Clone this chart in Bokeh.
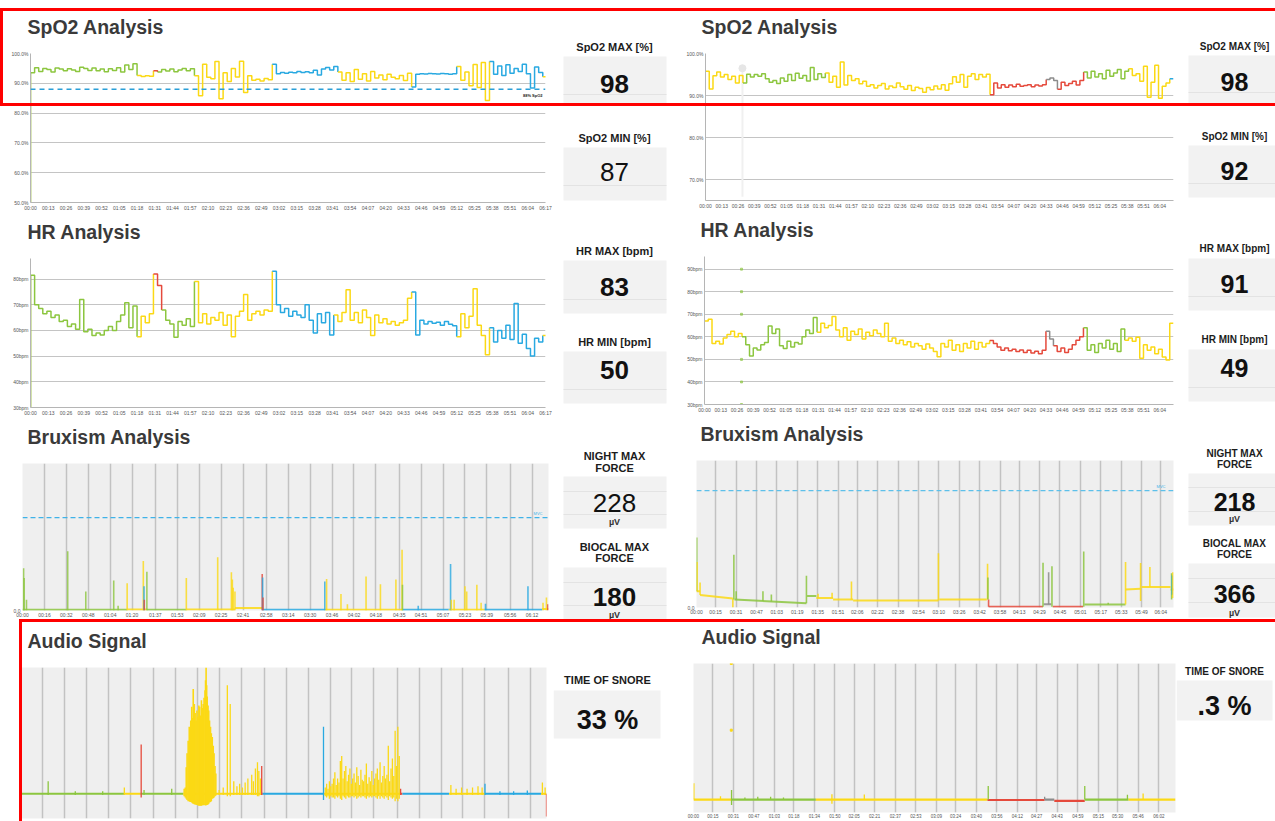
from bokeh.plotting import figure
from bokeh.layouts import row, column
from bokeh.models import Range1d, FixedTicker, PrintfTickFormatter, Span, Label, Div, Title
from bokeh.embed import file_html
from bokeh.resources import INLINE
from bokeh.core.properties import value

# ======================= DATA =======================
# time-axis tick labels
trend_left_labels = ["00:00", "00:13", "00:26", "00:39", "00:52", "01:05", "01:18", "01:31", "01:44", "01:57",
                     "02:10", "02:23", "02:36", "02:49", "03:02", "03:15", "03:28", "03:41", "03:54", "04:07",
                     "04:20", "04:33", "04:46", "04:59", "05:12", "05:25", "05:38", "05:51", "06:04", "06:17"]
trend_right_labels = trend_left_labels[:-1]
brux_left_labels = ["00:00", "00:16", "00:32", "00:48", "01:04", "01:20", "01:37", "01:53", "02:09", "02:25",
                    "02:41", "02:58", "03:14", "03:30", "03:46", "04:02", "04:18", "04:35", "04:51", "05:07",
                    "05:23", "05:39", "05:56", "06:12"]
brux_right_labels = ["00:00", "00:15", "00:31", "00:47", "01:03", "01:19", "01:35", "01:51", "02:06", "02:22",
                     "02:38", "02:54", "03:10", "03:26", "03:42", "03:58", "04:13", "04:29", "04:45", "05:01",
                     "05:17", "05:33", "05:49", "06:04"]
audio_right_labels = ["00:00", "00:15", "00:31", "00:47", "01:03", "01:18", "01:34", "01:50", "02:05", "02:21",
                      "02:37", "02:53", "03:09", "03:24", "03:40", "03:56", "04:12", "04:27", "04:43", "04:59",
                      "05:15", "05:30", "05:46", "06:02"]

SAMPLE_MIN = 3  # trend samples every 3 minutes

# ---- SpO2 left (%), runs of body position ----
spo2_left_values = [
    93.5, 95.2, 94.0, 95.0, 94.6, 93.8, 95.1, 94.8, 94.2, 94.9, 94.5, 94.0, 95.4, 95.0, 94.3, 95.1, 94.2, 94.8,
    93.9, 94.9, 94.3, 95.2, 93.8, 96.1, 94.6, 96.6,
    92.6, 92.3, 92.5, 92.4,
    94.2,
    93.8, 94.6, 94.1, 94.8, 93.9, 94.5, 95.0, 94.2, 94.9,
    92.5, 85.8, 96.4, 92.0, 91.5, 97.3, 84.8, 93.5, 90.6, 95.0, 92.1, 97.4, 86.9, 92.5, 91.0, 91.4, 90.8, 91.6, 91.2,
    96.4, 93.2, 93.6, 93.4, 93.7, 93.5, 94.0, 93.6, 93.9, 93.5, 94.4, 92.8, 94.8, 95.3, 94.5, 95.6,
    93.8, 91.0, 93.5, 90.6, 94.6, 91.4, 93.2, 90.8, 94.0, 91.8, 92.8, 91.2, 93.0, 92.0, 91.5, 92.6, 90.9, 93.4,
    88.8, 93.0, 93.2, 93.1, 93.3, 93.2, 93.1, 93.3, 93.2, 93.0, 93.2,
    95.6, 91.0, 93.8, 89.2, 96.3, 88.6, 97.0, 84.2,
    97.3, 93.0, 95.8, 92.6, 96.2, 93.4, 95.0, 94.0, 96.4, 93.2, 88.4, 95.5, 93.6,
    92.2]
spo2_left_runs = [("left", 26), ("supine", 4), ("prone", 1), ("left", 9), ("supine", 19), ("right", 16),
                  ("supine", 18), ("right", 11), ("supine", 8), ("right", 13), ("supine", 1)]
spo2_left_start_drop = [93.5, 50.0]
spo2_left_threshold = 88

# ---- SpO2 right (%) ----
spo2_right_values = [
    95.8, 91.6, 94.7, 95.6, 94.4, 95.0, 93.8, 94.6, 93.0, 94.8,
    93.0, 95.1, 94.4, 95.0, 94.6, 95.2, 94.0, 93.2, 93.6, 92.9, 94.2, 93.4, 95.0, 93.6, 95.3, 94.1, 94.8, 93.5,
    96.7, 93.8, 95.2, 94.3,
    95.4, 93.2, 94.6, 92.0, 98.0, 92.5, 94.8, 93.6, 94.0, 92.8, 93.4, 92.2, 92.6, 91.8, 92.4, 92.9, 91.6, 92.3,
    91.9, 93.0, 92.1, 91.5, 92.4, 91.2, 92.0, 91.7, 90.8, 91.9, 91.4, 92.3, 91.6, 92.6, 91.3, 92.8, 94.5, 93.2,
    95.0, 92.0, 94.6, 95.2, 93.8, 95.0, 94.4, 95.1,
    90.2, 93.0, 91.8, 92.6, 92.0, 92.5, 92.1, 92.7, 92.2, 92.4, 92.6, 92.1, 92.5, 92.3, 92.6,
    93.8, 94.2, 93.6,
    91.5, 93.2, 92.4, 92.9, 93.4, 92.5, 93.6,
    95.6, 94.2, 95.8, 94.4, 95.2, 94.0, 96.0, 94.6, 95.4, 96.2, 94.0, 95.8,
    96.4, 94.8, 95.2, 93.4, 97.0, 89.6, 93.2, 97.2, 89.4, 92.2, 93.0,
    94.0]
spo2_right_runs = [("supine", 10), ("left", 22), ("supine", 44), ("prone", 15), ("upright", 3), ("prone", 7),
                   ("left", 12), ("supine", 11), ("right", 1)]
spo2_right_ghost_t = 29.6
spo2_right_ghost_v = [96.5, 66.0]
spo2_right_threshold = 88

# ---- HR left (bpm) ----
hr_left_values = [
    81.5, 70.0, 68.5, 66.5, 67.5, 65.0, 66.0, 63.5, 64.0, 61.5, 62.5, 60.5, 72.0, 59.5, 60.5, 58.0, 59.0, 58.2,
    60.0, 61.5, 60.0, 63.5, 66.0, 70.8, 61.0, 69.5,
    57.5, 65.5, 63.0, 66.5,
    82.0, 77.5,
    68.0, 64.0, 62.5, 57.3, 63.5, 62.0, 64.5, 61.5,
    79.0, 63.0, 66.5, 62.5, 65.0, 64.0, 67.0, 62.0, 66.0, 57.5, 65.5, 67.5, 74.0, 64.0, 66.5, 67.5, 66.0, 68.0, 67.5,
    83.0, 70.0, 67.0, 68.5, 65.5, 67.5, 66.0, 65.0, 70.0, 64.0, 59.0, 66.5, 63.0, 67.0, 58.2,
    66.0, 63.5, 67.0, 75.8, 64.0, 67.0, 63.0, 68.0, 65.0, 58.0, 66.0, 63.0, 64.5, 62.5, 63.5, 62.0, 63.0, 64.0, 72.5,
    75.0, 58.2, 64.0, 62.5, 63.5, 62.8, 63.2, 62.0, 63.5, 62.4, 61.8,
    57.5, 66.5, 61.0, 65.5, 76.2, 62.0, 58.0, 50.5,
    61.0, 55.5, 60.0, 57.0, 62.0, 56.5, 70.5, 55.0, 58.5, 53.0, 50.0, 57.0, 55.5,
    58.0]
hr_left_runs = [("left", 26), ("supine", 4), ("prone", 2), ("left", 8), ("supine", 19), ("right", 15),
                ("supine", 19), ("right", 11), ("supine", 8), ("right", 13), ("supine", 1)]
hr_left_start_drop = [81.5, 30.0]

# ---- HR right (bpm) ----
hr_right_values = [
    67.0, 67.8, 57.0, 58.0, 56.8, 59.5, 61.0, 62.5, 60.0, 61.5,
    60.0, 56.5, 51.5, 55.0, 54.2, 56.5, 57.5, 64.8, 61.5, 63.5, 56.0, 54.8, 58.0, 55.5, 57.5, 56.8, 60.0, 63.0,
    61.5, 68.6,
    62.0, 66.0, 64.0, 65.0, 69.0, 63.0, 60.0, 64.0, 58.5, 62.5, 61.0, 63.5, 59.0, 62.0, 60.5, 63.0, 61.5, 60.0,
    66.0, 58.0, 59.5, 57.0, 58.5, 56.5, 57.8, 55.5, 57.0, 56.0, 54.5, 56.8, 55.0, 53.5, 51.2, 57.0, 55.5, 58.5,
    54.0, 56.5, 53.5, 57.0, 55.0, 58.0, 54.5, 57.5, 55.5, 57.0,
    58.4, 57.0, 55.5, 54.0, 55.0, 53.8, 54.5, 53.5, 54.2, 53.0, 54.0, 52.8, 53.6, 52.5, 54.0,
    62.5, 59.0,
    56.0, 53.5, 55.0, 53.0, 54.5, 56.5, 58.5, 60.0,
    64.0, 54.0, 56.5, 53.0, 57.0, 55.0, 58.5, 54.5, 57.0, 53.5, 63.5,
    58.5, 59.5, 58.0, 59.8, 50.5, 56.5, 54.0, 55.5, 52.5, 54.5, 51.0, 49.7, 66.0]
hr_right_runs = [("supine", 10), ("left", 20), ("supine", 46), ("prone", 15), ("upright", 2), ("prone", 8),
                 ("left", 11), ("supine", 13)]
hr_right_ghost_t = 29.6
hr_right_ghost_v = [90, 80, 70, 50, 40, 30]

# ---- Bruxism left (uV) ----
brux_left_base_start = [0, 76.4, 90.8, 119.6, 155.1, 175.3, 220.7, 277.1, 311.2, 337.4, 379.4]
brux_left_base_end = [76.4, 90.8, 119.6, 155.1, 175.3, 220.7, 277.1, 311.2, 337.4, 379.4, 384]
brux_left_base_level = [1.3, 1.8, 1.3, 1.8, 5.0, 1.3, 1.5, 1.3, 1.5, 1.3, 3.0]
brux_left_base_pos = ["left", "supine", "left", "supine", "supine", "right", "supine", "right", "supine",
                      "right", "supine"]
brux_left_spike_t = [0.8, 1.2, 2.9, 33.0, 46.2, 66.6, 69.8, 76.4, 88.2, 88.7, 88.9, 90.8, 119.6, 142.5, 152.5,
                     153.2, 153.8, 155.1, 175.0, 175.3, 175.6, 220.7, 222.0, 232.5, 237.2, 250.8, 261.3, 272.6,
                     277.1, 277.4, 288.9, 312.5, 313.0, 315.1, 323.0, 324.3, 331.7, 334.8, 338.0, 369.0, 380.0,
                     382.5, 383.5]
brux_left_spike_v = [82, 63, 21, 115, 37, 58, 9, 53, 96, 47, 21, 75, 63, 103, 74, 60, 44, 37, 71, 64, 25, 56, 61,
                     32, 12, 66, 51, 60, 118, 50, 9, 90, 21, 21, 47, 37, 50, 15, 13, 47, 15, 25, 12]
brux_left_spike_pos = ["left"] * 7 + ["supine", "supine", "right", "prone", "left"] + ["supine"] * 6 + \
                      ["prone", "right", "prone", "right"] + ["supine"] * 7 + ["left", "right", "right"] + \
                      ["supine"] * 6 + ["right", "right", "supine", "supine", "prone"]
brux_left_mvc = 180

# ---- Bruxism right (uV) ----
brux_right_base_start = [0, 2.8, 29.8, 86.7, 94.0, 107.1, 122.8, 190.4, 229.0, 272.2, 279.3, 304.1, 336.4, 349.0, 371.7]
brux_right_base_end = [2.8, 28.5, 86.2, 94.0, 107.1, 122.8, 189.7, 227.6, 271.7, 278.2, 303.1, 336.4, 348.2, 371.7, 374.0]
brux_right_base_v0 = [51, 39, 25, 36, 30, 25, 22, 25, 2, 10, 2, 9, 56, 64, 56]
brux_right_base_v1 = [51, 28.5, 13, 36, 30, 25, 22, 25, 2, 10, 2, 9, 59, 64, 56]
brux_right_base_pos = ["supine", "supine", "left", "left", "supine", "supine", "supine", "supine", "prone",
                       "upright", "prone", "left", "supine", "supine", "supine"]
brux_right_spike_t = [0.2, 0.4, 2.8, 28.5, 29.3, 31.1, 52.1, 58.7, 86.2, 95.3, 106.3, 121.5, 189.7, 228.2, 228.5,
                      229.0, 271.7, 276.1, 278.7, 303.6, 322.8, 336.4, 348.2, 355.5, 372.5, 373.0, 373.5]
brux_right_spike_lo = [51, 51, 39, 0, 25, 25, 20, 19, 13, 30, 30, 25, 22, 25, 25, 2, 2, 10, 2, 2, 9, 9, 20, 64, 25, 40, 30]
brux_right_spike_hi = [219, 142, 78, 28.5, 165, 51, 51, 41, 99, 43, 46, 81, 170, 137, 94, 25, 140, 110, 129, 175, 15,
                       142, 139, 127, 107, 100, 110]
brux_right_spike_pos = ["left", "supine", "supine", "supine", "left", "left", "left", "left", "left", "supine",
                        "supine", "supine", "supine", "supine", "left", "prone", "left", "upright", "left", "left",
                        "left", "supine", "supine", "supine", "left", "right", "supine"]
brux_right_mvc = 366

# ---- Audio left (relative amplitude) ----
audio_left_base_start = [0, 75.8, 87.6, 119.0, 176.0, 176.7, 221.2, 277.5, 278.8, 312.9, 339.1, 380.0]
audio_left_base_end = [75.8, 87.6, 119.0, 176.0, 176.7, 221.2, 277.5, 278.8, 312.9, 339.1, 380.0, 384.0]
audio_left_base_pos = ["left", "supine", "left", "supine", "prone", "right", "supine", "prone", "right", "supine",
                       "right", "supine"]
audio_left_spike_t = [0.2, 20.2, 40.0, 60.0, 75.8, 88.1, 90.2, 110.4, 145.0, 148.0, 151.0, 153.1, 155.7, 158.0,
                      160.0, 162.0, 164.0, 166.0, 168.8, 170.0, 171.5, 173.0, 174.0, 175.2, 176.1, 221.2, 277.5,
                      314.2, 318.0, 322.0, 326.0, 330.0, 334.0, 337.0, 339.1, 350.0, 360.0, 370.0, 381.0, 383.0, 384.0]
audio_left_spike_lo = [0, -0.01, -0.01, -0.01, -0.01, -0.03, -0.01, -0.01,
                       -0.01, -0.01, -0.02, -0.02, -0.01, -0.01, -0.01, -0.01, -0.01, -0.01, -0.01, -0.01, -0.01,
                       -0.02, -0.02, -0.01,
                       -0.01, -0.05, -0.01,
                       -0.01, -0.01, -0.01, -0.01, -0.01, -0.01, -0.01,
                       -0.01, -0.01, -0.01, -0.01,
                       -0.01, -0.01, -0.18]
audio_left_spike_hi = [0.18, 0.10, 0.02, 0.02, 0.05, 0.39, 0.03, 0.04,
                       0.03, 0.05, 0.86, 0.71, 0.10, 0.06, 0.08, 0.05, 0.09, 0.12, 0.15, 0.10, 0.20, 0.25, 0.18, 0.12,
                       0.22, 0.53, 0.04,
                       0.07, 0.04, 0.05, 0.04, 0.05, 0.06, 0.05,
                       0.08, 0.02, 0.02, 0.025,
                       0.09, 0.05, 0.0]
audio_left_spike_pos = ["left", "left", "left", "left", "supine", "prone", "left", "left"] + ["supine"] * 16 + \
                       ["prone", "right", "prone"] + ["supine"] * 7 + ["right"] * 4 + ["supine", "supine", "prone"]
# snoring burst 1 (supine)
audio_left_burst1_t = [119.5, 120.3, 121.0, 121.6, 122.4, 123.2, 123.8, 124.3, 125.0, 125.6,
                       126.1, 126.9, 127.5, 128.2, 128.8, 129.5, 130.2, 130.8, 131.5, 132.1,
                       132.8, 133.4, 134.0, 134.7, 135.1, 135.5, 135.9, 136.3, 136.9, 137.4,
                       138.0, 138.7, 139.3, 140.0, 140.7, 141.3, 142.0, 142.6]
audio_left_burst1_hi = [0.04, 0.05, 0.21, 0.32, 0.42, 0.53, 0.45, 0.58, 0.69, 0.60,
                        0.83, 0.71, 0.64, 0.58, 0.66, 0.61, 0.70, 0.69, 0.62, 0.74,
                        0.68, 0.71, 0.76, 0.82, 0.90, 1.0, 0.86, 0.77, 0.70, 0.66,
                        0.58, 0.53, 0.48, 0.45, 0.38, 0.32, 0.22, 0.16]
audio_left_burst1_lo = [-0.02, -0.03, -0.04, -0.05, -0.06, -0.06, -0.065, -0.066, -0.07, -0.075,
                        -0.08, -0.084, -0.086, -0.088, -0.09, -0.092, -0.095, -0.095, -0.095, -0.095,
                        -0.092, -0.092, -0.09, -0.092, -0.092, -0.092, -0.09, -0.088, -0.085, -0.08,
                        -0.07, -0.066, -0.06, -0.04, -0.035, -0.03, -0.02, -0.013]
# snoring burst 2 (supine), one reading per minute
audio_left_burst2_start = 222.5
audio_left_burst2_hi = [0.05, 0.08, 0.04, 0.10, 0.06, 0.08, 0.12, 0.17, 0.07, 0.12,
                        0.09, 0.26, 0.30, 0.12, 0.18, 0.22, 0.10, 0.15, 0.20, 0.08,
                        0.12, 0.16, 0.09, 0.21, 0.14, 0.07, 0.19, 0.11, 0.10, 0.15,
                        0.24, 0.08, 0.13, 0.10, 0.18, 0.07, 0.12, 0.16, 0.20, 0.11,
                        0.25, 0.09, 0.14, 0.22, 0.12, 0.15, 0.38, 0.10, 0.20, 0.28,
                        0.14, 0.50, 0.22, 0.53, 0.30]
audio_left_burst2_lo = [-0.02, -0.03, -0.02, -0.04, -0.02, -0.03, -0.03, -0.04, -0.02, -0.03,
                        -0.02, -0.04, -0.05, -0.02, -0.03, -0.04, -0.02, -0.03, -0.03, -0.02,
                        -0.02, -0.03, -0.02, -0.04, -0.03, -0.02, -0.03, -0.02, -0.02, -0.03,
                        -0.04, -0.02, -0.03, -0.02, -0.03, -0.02, -0.02, -0.03, -0.04, -0.02,
                        -0.04, -0.02, -0.03, -0.04, -0.02, -0.03, -0.05, -0.02, -0.03, -0.04,
                        -0.03, -0.06, -0.04, -0.06, -0.04]

# ---- Audio right ----
audio_right_base_start = [0, 29.4, 95.2, 228.7, 273.2, 280.7, 304.4, 338.5]
audio_right_base_end = [29.4, 95.2, 228.7, 273.2, 280.7, 304.4, 338.5, 375]
audio_right_base_level = [0.0, 0.0, 0.0, -0.003, 0.0, -0.01, 0.0, 0.0]
audio_right_base_pos = ["supine", "left", "supine", "prone", "upright", "prone", "left", "supine"]
audio_right_spike_t = [0.3, 21.0, 29.6, 40.0, 50.0, 60.0, 70.0, 107.7, 132.9, 229.3, 273.2, 304.4, 337.6, 349.8]
audio_right_spike_lo = [0, 0, -0.04, 0, 0, 0, 0, -0.03, 0, 0, 0, 0, 0, 0]
audio_right_spike_hi = [0.12, 0.025, 0.07, 0.015, 0.02, 0.02, 0.015, 0.04, 0.037, 0.10, 0.02, 0.10, 0.036, 0.045]
audio_right_spike_pos = ["supine", "supine", "left", "left", "left", "left", "left", "supine", "supine", "left",
                         "upright", "left", "left", "supine"]
audio_right_speck_t = [29.4, 29.4]
audio_right_speck_v = [1.0, 0.51]

# ---- summary cards ----
stat_labels = [["SpO2 MAX [%]"], ["SpO2 MIN [%]"], ["HR MAX [bpm]"], ["HR MIN [bpm]"],
               ["NIGHT MAX", "FORCE"], ["BIOCAL MAX", "FORCE"], ["TIME OF SNORE"]]
stat_units = ["", "", "", "", "µV", "µV", ""]
left_stat_values = ["98", "87", "83", "50", "228", "180", "33 %"]
right_stat_values = ["98", "92", "91", "49", "218", "366", ".3 %"]

# ======================= STYLE / LAYOUT =======================
POS_COLOR = {"left": "#8cc63f", "supine": "#fbd915", "right": "#29a9e1", "prone": "#e54a3c", "upright": "#8c8c8c"}
FONT = "Liberation Sans"
TICK_FONT = "5px"


def minutes(lbl):
    h, m = lbl.split(":")
    return int(h) * 60 + int(m)


def chart(w, h, bl, br, bt, bb, xr, yr, title, toff):
    p = figure(width=w, height=h, x_range=Range1d(*xr), y_range=Range1d(*yr),
               output_backend="svg", toolbar_location=None, title_location=None, frame_align=False,
               min_border_left=bl, min_border_right=br, min_border_top=bt, min_border_bottom=bb)
    # small spacer nearest the frame, then the panel heading
    p.add_layout(Title(text=" ", text_font_size="5px", standoff=3), "above")
    p.add_layout(Title(text=title, text_font=FONT, text_font_size="19.5px", text_font_style="bold",
                       text_color="#3a3a3a", align="left", offset=toff, standoff=10), "above")
    p.outline_line_color = None
    p.border_fill_color = "white"
    for ax in (p.xaxis, p.yaxis):
        ax.major_label_text_font_size = TICK_FONT
        ax.major_label_text_font = FONT
        ax.major_label_text_color = "#555555"
        ax.major_tick_line_color = None
        ax.minor_tick_line_color = None
        ax.major_tick_out = 0
        ax.major_tick_in = 0
        ax.major_label_standoff = 2
        ax.axis_line_color = "#b5b5b5"
    return p


def time_axis(p, labels):
    ticks = [minutes(lbl) for lbl in labels]
    p.xaxis.ticker = FixedTicker(ticks=ticks)
    p.xaxis.major_label_overrides = {t: lbl for t, lbl in zip(ticks, labels)}
    p.xgrid.ticker = FixedTicker(ticks=ticks)


def trend_style(p, yticks, fmt):
    p.yaxis.ticker = FixedTicker(ticks=yticks)
    p.yaxis.formatter = PrintfTickFormatter(format=fmt)
    p.ygrid.ticker = FixedTicker(ticks=yticks)
    p.ygrid.grid_line_color = "#c4c4c4"
    p.xgrid.grid_line_color = None


def signal_style(p):
    p.background_fill_color = "#efefef"
    p.xgrid.grid_line_color = "#c2c2c2"
    p.xgrid.grid_line_width = 1.5
    p.ygrid.grid_line_color = None
    p.yaxis.axis_line_color = None
    p.xaxis.axis_line_color = None


def trend(p, values, runs):
    i = 0
    n_all = len(values)
    for pos, n in runs:
        xs = [SAMPLE_MIN * k for k in range(i, i + n)]
        ys = list(values[i:i + n])
        nxt = values[i + n] if i + n < n_all else values[-1]
        xs.append(SAMPLE_MIN * (i + n))
        ys.append(nxt)
        p.step(xs, ys, mode="after", line_color=POS_COLOR[pos], line_width=1.5)
        i += n


def colors(pos_list):
    return [POS_COLOR[q] for q in pos_list]


# ---------- left column (page x 0..553) ----------
L_X = (0, 377)
pA1 = chart(553, 213, 30, 8, 53, 8, L_X, (50, 100), "SpO2 Analysis", -3)
trend_style(pA1, [50, 60, 70, 80, 90, 100], "%.1f%%")
time_axis(pA1, trend_left_labels)
pA1.line([0, 0], spo2_left_start_drop, line_color="#bcd37a", line_width=2)
trend(pA1, spo2_left_values, spo2_left_runs)
pA1.add_layout(Span(location=spo2_left_threshold, dimension="width", line_color="#2a9fd8",
                    line_dash="5 4", line_width=1.5))
pA1.add_layout(Label(x=L_X[1], y=spo2_left_threshold, text="%d%% SpO2" % spo2_left_threshold,
                     text_align="right", text_baseline="top", x_offset=-3, y_offset=-4,
                     text_font_size="4px", text_font_style="bold", text_font=FONT, text_color="#222222"))

pA2 = chart(553, 205, 30, 8, 45, 9, L_X, (30, 88), "HR Analysis", -3)
trend_style(pA2, [30, 40, 50, 60, 70, 80], "%dbpm")
time_axis(pA2, trend_left_labels)
pA2.line([0, 0], hr_left_start_drop, line_color="#a9c95a", line_width=2)
trend(pA2, hr_left_values, hr_left_runs)

BL_X = (0, 384)
pA3 = chart(553, 202, 22, 5, 45, 7, BL_X, (0, 285), "Bruxism Analysis", 5)
signal_style(pA3)
time_axis(pA3, brux_left_labels)
pA3.yaxis.ticker = FixedTicker(ticks=[0])
pA3.yaxis.formatter = PrintfTickFormatter(format="%.1f")
pA3.xaxis.major_label_standoff = 1
pA3.segment(x0=brux_left_base_start, x1=brux_left_base_end, y0=brux_left_base_level, y1=brux_left_base_level,
            line_color=colors(brux_left_base_pos), line_width=2, line_alpha=0.85)
pA3.segment(x0=brux_left_spike_t, x1=brux_left_spike_t, y0=0, y1=brux_left_spike_v,
            line_color=colors(brux_left_spike_pos), line_width=1.6, line_alpha=0.8)
pA3.add_layout(Span(location=brux_left_mvc, dimension="width", line_color="#3fb2e8", line_dash="5 3",
                    line_width=1.3))
pA3.add_layout(Label(x=BL_X[1], y=brux_left_mvc, text="MVC", text_align="right", text_baseline="bottom",
                     x_offset=-6, y_offset=2, text_font_size="4px", text_font=FONT, text_color="#3fb2e8"))

pA4 = chart(553, 201, 20, 7, 47, 3, BL_X, (-0.196, 1.0), "Audio Signal", 7)
signal_style(pA4)
time_axis(pA4, brux_left_labels)
pA4.xaxis.visible = False
pA4.yaxis.visible = False
pA4.segment(x0=audio_left_base_start, x1=audio_left_base_end, y0=0, y1=0,
            line_color=colors(audio_left_base_pos), line_width=2.2)
pA4.segment(x0=audio_left_burst1_t, x1=audio_left_burst1_t, y0=audio_left_burst1_lo, y1=audio_left_burst1_hi,
            line_color=POS_COLOR["supine"], line_width=1.6)
b2_t = [audio_left_burst2_start + k for k in range(len(audio_left_burst2_hi))]
pA4.segment(x0=b2_t, x1=b2_t, y0=audio_left_burst2_lo, y1=audio_left_burst2_hi,
            line_color=POS_COLOR["supine"], line_width=1.3)
pA4.segment(x0=audio_left_spike_t, x1=audio_left_spike_t, y0=audio_left_spike_lo, y1=audio_left_spike_hi,
            line_color=colors(audio_left_spike_pos), line_width=1.3)

# ---------- right column (page x 683..1176) ----------
R_X = (0, 375)
pC1 = chart(493, 211, 21, 3, 53, 8, R_X, (65.1, 100), "SpO2 Analysis", -4)
trend_style(pC1, [70, 80, 90, 100], "%.1f%%")
time_axis(pC1, trend_right_labels)
pC1.line([spo2_right_ghost_t] * 2, spo2_right_ghost_v, line_color="#f0f0f0", line_width=2)
pC1.scatter([spo2_right_ghost_t], [spo2_right_ghost_v[0]], size=7, color="#e6e6e6")
trend(pC1, spo2_right_values, spo2_right_runs)
pC1.add_layout(Span(location=spo2_right_threshold, dimension="width", line_color="#34508e",
                    line_dash="4 4", line_width=1.5))

pC2 = chart(493, 204, 21, 3, 45, 8, R_X, (30, 95.6), "HR Analysis", -4)
trend_style(pC2, [30, 40, 50, 60, 70, 80, 90], "%dbpm")
time_axis(pC2, trend_right_labels)
pC2.scatter([hr_right_ghost_t] * len(hr_right_ghost_v), hr_right_ghost_v, marker="square", size=2,
            color=POS_COLOR["left"], alpha=0.6)
trend(pC2, hr_right_values, hr_right_runs)

BR_X = (0, 374)
pC3 = chart(493, 202, 13, 3, 44, 7, BR_X, (0, 460), "Bruxism Analysis", 4)
signal_style(pC3)
time_axis(pC3, brux_right_labels)
pC3.yaxis.ticker = FixedTicker(ticks=[0])
pC3.yaxis.formatter = PrintfTickFormatter(format="%.1f")
pC3.xaxis.major_label_standoff = 1
pC3.segment(x0=brux_right_base_start, x1=brux_right_base_end, y0=brux_right_base_v0, y1=brux_right_base_v1,
            line_color=colors(brux_right_base_pos), line_width=2, line_alpha=0.85)
pC3.segment(x0=brux_right_spike_t, x1=brux_right_spike_t, y0=brux_right_spike_lo, y1=brux_right_spike_hi,
            line_color=colors(brux_right_spike_pos), line_width=1.6, line_alpha=0.85)
pC3.add_layout(Span(location=brux_right_mvc, dimension="width", line_color="#5cc0ea", line_dash="5 3",
                    line_width=1.3))
pC3.add_layout(Label(x=BR_X[1], y=brux_right_mvc, text="MVC", text_align="right", text_baseline="bottom",
                     x_offset=-8, y_offset=2, text_font_size="4px", text_font=FONT, text_color="#3fb2e8"))

pC4 = chart(493, 204, 10, 1, 46, 8, (0, 375), (-0.095, 1.0), "Audio Signal", 8)
signal_style(pC4)
time_axis(pC4, audio_right_labels)
pC4.xaxis.major_label_text_font_size = "4.5px"
pC4.xaxis.major_label_standoff = 1
pC4.yaxis.visible = False
pC4.segment(x0=audio_right_base_start, x1=audio_right_base_end, y0=audio_right_base_level,
            y1=audio_right_base_level, line_color=colors(audio_right_base_pos), line_width=2.2)
pC4.segment(x0=audio_right_spike_t, x1=audio_right_spike_t, y0=audio_right_spike_lo, y1=audio_right_spike_hi,
            line_color=colors(audio_right_spike_pos), line_width=1.3)
pC4.scatter(audio_right_speck_t, audio_right_speck_v, marker="square", size=2, color=POS_COLOR["supine"])

# ---------- summary cards ----------
left_cards = [
    dict(label_y=[46], box=(563, 666, 56, 104), div=[94], val_y=83, bold=True, cx=614),
    dict(label_y=[137], box=(563, 666, 147, 200), div=[185], val_y=171, bold=False, cx=614),
    dict(label_y=[250], box=(563, 666, 260, 313), div=[299], val_y=286, bold=True, cx=614),
    dict(label_y=[341], box=(563, 666, 351, 403), div=[389], val_y=369, bold=True, cx=614),
    dict(label_y=[455, 467], box=(563, 666, 476, 528), div=[491, 514], val_y=502, bold=False, unit_y=521, cx=614),
    dict(label_y=[546, 557], box=(563, 666, 567, 620), div=[582, 605], val_y=596, bold=True, unit_y=614, cx=614),
    dict(label_y=[679], box=(553, 660, 690, 738), div=[], val_y=719, bold=True, cx=607),
]
right_cards = [
    dict(label_y=[46], box=(1188, 1275, 55, 103), div=[92], val_y=81, bold=True, cx=1234),
    dict(label_y=[136], box=(1188, 1275, 145, 197), div=[183], val_y=170, bold=True, cx=1234),
    dict(label_y=[248], box=(1188, 1275, 258, 310), div=[296], val_y=283, bold=True, cx=1234),
    dict(label_y=[339], box=(1188, 1275, 349, 401), div=[387], val_y=367, bold=True, cx=1234),
    dict(label_y=[453, 464], box=(1188, 1275, 473, 525), div=[487, 511], val_y=501, bold=True, unit_y=518, cx=1234),
    dict(label_y=[543, 554], box=(1188, 1275, 563, 617), div=[578, 602], val_y=593, bold=True, unit_y=612, cx=1234),
    dict(label_y=[671], box=(1176, 1272, 680, 720), div=[], val_y=705, bold=True, cx=1224),
]


def stat_panel(width, xr, cards, values, label_size, value_size):
    p = figure(width=width, height=821, x_range=Range1d(*xr), y_range=Range1d(821, 0),
               x_axis_type=None, y_axis_type=None, output_backend="svg", toolbar_location=None,
               min_border=0, title_location=None, frame_align=False)
    p.outline_line_color = None
    p.background_fill_color = "white"
    p.border_fill_color = "white"
    for card, lbls, unit, val in zip(cards, stat_labels, stat_units, values):
        x0, x1, y0, y1 = card["box"]
        p.quad(left=[x0], right=[x1], top=[y0], bottom=[y1], fill_color="#f2f2f2", line_color=None)
        if card["div"]:
            p.segment(x0=[x0] * len(card["div"]), x1=[x1] * len(card["div"]), y0=card["div"], y1=card["div"],
                      line_color="#e3e3e3", line_width=1)
        p.text(x=[card["cx"]] * len(lbls), y=card["label_y"], text=lbls, text_font=value(FONT),
               text_font_size=label_size, text_font_style="bold", text_align="center", text_baseline="middle",
               text_color="#1c1c1c")
        vs = value_size if "%" not in val else "27px"
        p.text(x=[card["cx"]], y=[card["val_y"]], text=[val], text_font=value(FONT), text_font_size=vs,
               text_font_style="bold" if card["bold"] else "normal", text_align="center",
               text_baseline="middle", text_color="#111111")
        if unit:
            p.text(x=[card["cx"]], y=[card["unit_y"]], text=[unit], text_font=value(FONT), text_font_size="9px",
                   text_font_style="bold", text_align="center", text_baseline="middle", text_color="#333333")
    return p


statL = stat_panel(130, (553, 683), left_cards, left_stat_values, "11px", "26px")
statR = stat_panel(99, (1176, 1275), right_cards, right_stat_values, "10px", "25px")

colA = column(pA1, pA2, pA3, pA4, spacing=0)
colC = column(pC1, pC2, pC3, pC4, spacing=0)
main = row(colA, statL, colC, statR, spacing=0)

red_top = Div(width=1275, height=98, margin=0, styles={
    "position": "absolute", "left": "0px", "top": "8px", "box-sizing": "border-box",
    "border-top": "3px solid #ff0000", "border-left": "3px solid #ff0000", "border-bottom": "3px solid #ff0000",
    "z-index": "20", "pointer-events": "none"})
red_bottom = Div(width=1256, height=202, margin=0, styles={
    "position": "absolute", "left": "19px", "top": "619px", "box-sizing": "border-box",
    "border-top": "3px solid #ff0000", "border-left": "3px solid #ff0000",
    "z-index": "20", "pointer-events": "none"})

root = column(main, red_top, red_bottom, spacing=0, styles={"position": "relative"})

open("out.html", "w").write(file_html(root, INLINE))
